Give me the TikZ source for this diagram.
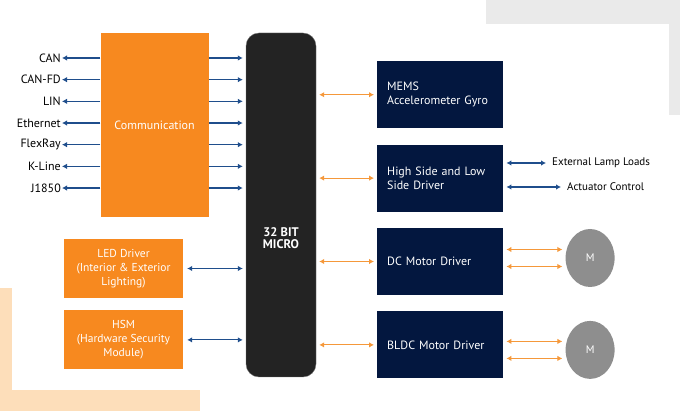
\documentclass[tikz,border=0pt]{standalone}
\usepackage{fontspec}
\setmainfont{PT Sans}
\usetikzlibrary{arrows.meta,positioning,shapes.geometric}
\definecolor{orange}{HTML}{F7891F}
\definecolor{navy}{HTML}{03173F}
\definecolor{chip}{HTML}{232323}
\definecolor{link}{HTML}{1F4E8C}
\definecolor{glow}{HTML}{F5983A}
\definecolor{peach}{HTML}{FDDEBA}
\definecolor{mist}{HTML}{EAEAEA}
\definecolor{rotor}{HTML}{8E8E8E}

\begin{document}
\begin{tikzpicture}[x=1pt, y=-1pt, node distance=16pt and 40pt, every node/.style={font=\fontsize{12}{14}\selectfont}, obox/.style={fill=orange, text=white, align=center, minimum width=119pt, minimum height=59pt, inner sep=2pt}, nbox/.style={fill=navy, text=white, align=left, text width=106pt, inner xsep=10pt, minimum width=126pt, minimum height=67pt}, motor/.style={ellipse, fill=rotor, text=white, minimum width=49pt, minimum height=58pt, font=\fontsize{11}{13}\selectfont}, barr/.style={{Latex[length=5pt,width=5.5pt]}-{Latex[length=5pt,width=5.5pt]}, line width=1.1pt, link}, toarr/.style={-{Latex[length=5pt,width=5.5pt]}, line width=1.1pt, link}, oarr/.style={{Latex[length=5pt,width=5.5pt]}-{Latex[length=5pt,width=5.5pt]}, line width=1.1pt, glow, shorten <=3pt, shorten >=3pt}]
\useasboundingbox (0,0) rectangle (680,411);
% backdrop
\fill[mist] (486,0) rectangle (680,24);
\fill[mist] (669,24) rectangle (680,115);
\fill[peach] (0,288) rectangle (12,411);
\fill[peach] (12,390) rectangle (200,411);

\node[draw=black!55, fill=chip, rounded corners=13pt, minimum width=70pt, minimum height=344pt, label={[text=white, font=\bfseries\fontsize{12.5}{12.5}\selectfont, align=center, yshift=-33pt]center:32 BIT\\MICRO}] (micro) at (281,205) {};
\node[obox, minimum width=108pt, minimum height=184pt, left=37pt of micro.north west, anchor=north east] (comm) {Communication};
\node[obox, font=\fontsize{11.5}{14}\selectfont] (led) at (123.5,268.5) {LED Driver\\(Interior \& Exterior\\Lighting)};
\node[obox, font=\fontsize{11.5}{14}\selectfont, below=12pt of led] (hsm) {HSM\\(Hardware Security\\Module)};

\node[nbox, anchor=north west] (mems) at (377,61) {MEMS\\Accelerometer Gyro};
\node[nbox, below=of mems] (hsld) {High Side and Low\\Side Driver};
\node[nbox, below=of hsld] (dc) {DC Motor Driver};
\node[nbox, below=of dc] (bldc) {BLDC Motor Driver};
\node[motor, right=62pt of dc, yshift=3.5pt] (dcm) {M};
\node[motor, right=62pt of bldc, yshift=-5pt] (bldcm) {M};
\node[anchor=west, inner sep=1pt, font=\fontsize{11}{13}\selectfont] (lamp) at (551,163) {External Lamp Loads};
\node[anchor=west, inner sep=1pt, font=\fontsize{11}{13}\selectfont] (act) at (566,187) {Actuator Control};

% bus lines
\foreach \name [count=\i from 0] in {CAN,CAN-FD,LIN,Ethernet,FlexRay,K-Line,J1850} {
  \node[anchor=east, inner sep=1pt] (bus\i) at (62,58+21.67*\i) {\name};
  \draw[toarr] (comm.west |- bus\i) -- (bus\i);
  \draw[toarr, shorten >=3pt] (comm.east |- bus\i) -- (micro.west |- bus\i);
}
\draw[barr, shorten <=4pt, shorten >=3pt] (led) -- (micro.west |- led);
\draw[barr, shorten <=4pt, shorten >=3pt] (hsm) -- (micro.west |- hsm);
\draw[oarr] (micro.east |- mems) -- (mems);
\draw[oarr] (micro.east |- hsld) -- (hsld);
\draw[oarr] (micro.east |- dc) -- (dc);
\draw[oarr] (micro.east |- bldc) -- (bldc);
\draw[barr, shorten <=3pt, shorten >=5pt] (hsld.east |- lamp) -- (lamp);
\draw[barr, shorten <=3pt, shorten >=5pt] (hsld.east |- act) -- (act);
\foreach \m/\b in {dcm/dc, bldcm/bldc} {
  \coordinate (\m up) at ([yshift=8.5pt]\m.west);
  \coordinate (\m dn) at ([yshift=-8.5pt]\m.west);
  \draw[oarr] (\b.east |- \m up) -- (\m up);
  \draw[oarr] (\b.east |- \m dn) -- (\m dn);
}
\end{tikzpicture}
\end{document}
